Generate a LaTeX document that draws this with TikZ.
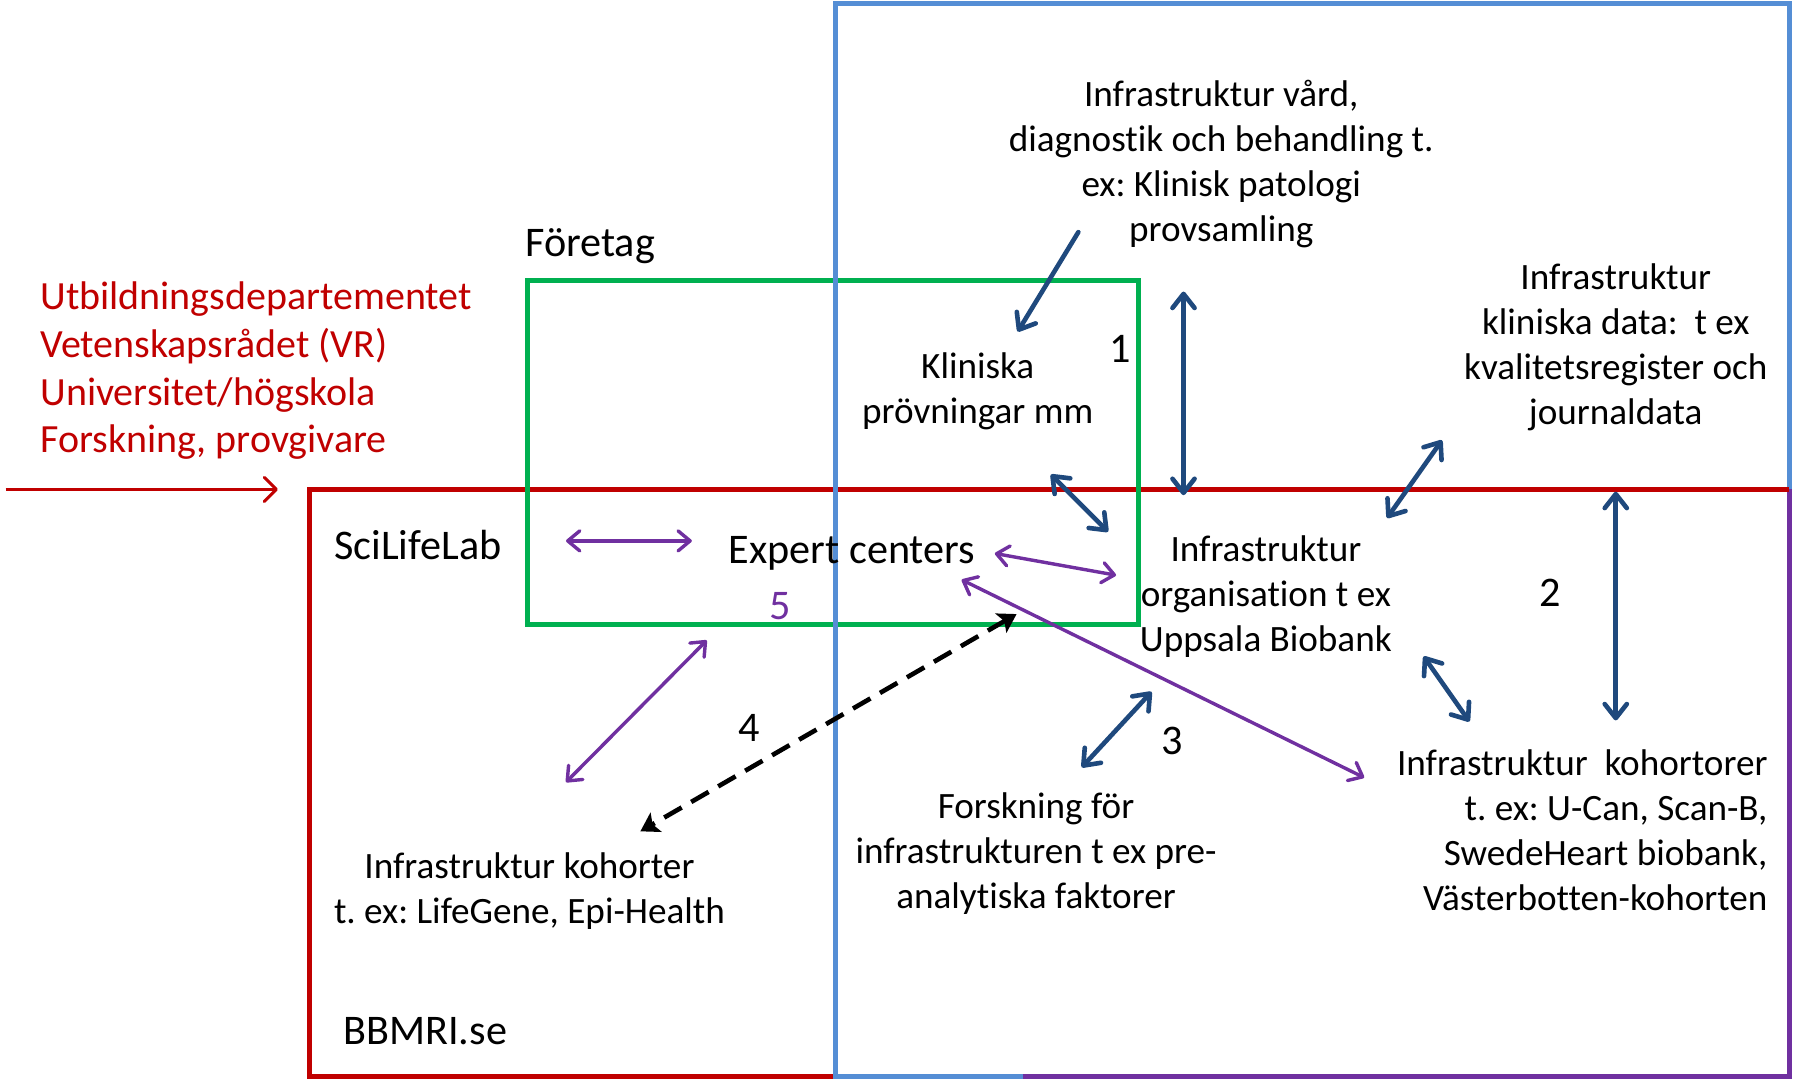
\documentclass[tikz,border=0pt]{standalone}
\usepackage{fontspec}
\setmainfont{Carlito}[Ligatures=NoCommon]
\usetikzlibrary{arrows.meta}
\definecolor{frameblue}{HTML}{558ED5}
\definecolor{darkred}{HTML}{C00000}
\definecolor{grn}{HTML}{00B050}
\definecolor{purp}{HTML}{7030A0}
\definecolor{navy}{HTML}{1F497D}
\frenchspacing
\begin{document}
\begin{tikzpicture}[x=0.02cm,y=-0.02cm,
  txt/.style={font=\fontsize{18.5}{22.4}\selectfont, inner sep=0pt, align=center, yshift=-1.3pt},
  big/.style={font=\fontsize{21}{25}\selectfont, inner sep=0pt, yshift=-1.3pt},
  frame/.style={line width=2.5pt, line join=miter},
  barb/.tip={Straight Barb[round,length=7pt,width=11pt]},
  pbarb/.tip={Straight Barb[round,length=6pt,width=10pt]},
  navyarrow/.style={navy, line width=2.3pt, line cap=round, {barb}-{barb}},
  navysingle/.style={navy, line width=2.3pt, line cap=round, -{barb}},
  purparrow/.style={purp, line width=1.7pt, line cap=round, {pbarb}-{pbarb}},
  dasharrow/.style={black, line width=2.3pt, dash pattern=on 10pt off 5.5pt, {Stealth[length=9pt,width=11pt,inset=2pt]}-{Stealth[length=9pt,width=11pt,inset=2pt]}},
  redarrow/.style={darkred, line width=1.5pt, -{Straight Barb[round,length=6pt,width=12pt]}}
]
\useasboundingbox (0,0) rectangle (1568,944);

% frames
\draw[darkred, frame] (271,428) rectangle (1564.5,941);
\draw[grn, frame] (461,245) rectangle (996,546);
\draw[frameblue, frame] (731,3) rectangle (1564.5,941);
\draw[purp, frame] (895,941) -- (1564.5,941) -- (1564.5,428);
\draw[darkred, frame] (1400,428) -- (1564.5,428);

% texts
\node[txt, anchor=west, align=left, text=darkred, font=\fontsize{19.9}{23.8}\selectfont] (redtxt) at (35,322)
  {Utbildningsdepartementet\\Vetenskapsrådet (VR)\\Universitet/högskola\\Forskning, provgivare};
\node[big, anchor=west] (foretag) at (459,213) {Företag};
\node[big, anchor=west] (scilife) at (292,474) {SciLifeLab};
\node[big, anchor=west] (bbmri) at (300,899) {BBMRI.se};
\node[big] (expert) at (745,482) {Expert centers};
\node[big, text=purp] (five) at (682,528) {5};
\node[txt] (klin) at (855,340) {Kliniska\\prövningar mm};
\node[big] (one) at (980,303) {1};
\node[txt] (vard) at (1068,141) {Infrastruktur vård,\\diagnostik och behandling t.\\ex: Klinisk patologi\\provsamling};
\node[txt] (kldata) at (1413,301) {Infrastruktur\\kliniska data:\ \ t ex\\kvalitetsregister och\\journaldata};
\node[txt] (org) at (1107,519) {Infrastruktur\\organisation t ex\\Uppsala Biobank};
\node[big] (two) at (1356,516) {2};
\node[txt, anchor=east, align=right] (kohortorer) at (1546,724) {Infrastruktur\ \ kohortorer\\t. ex: U-Can, Scan-B,\\SwedeHeart biobank,\\Västerbotten-kohorten};
\node[big] (three) at (1025,646) {3};
\node[txt] (forsk) at (906,744) {Forskning för\\infrastrukturen t ex pre-\\analytiska faktorer};
\node[big] (four) at (655,634) {4};
\node[txt] (kohorter) at (463,777) {Infrastruktur kohorter\\t. ex: LifeGene, Epi-Health};

% connector end points
\coordinate (r1) at (5,428);   \coordinate (r2) at (243,428);
\coordinate (p1a) at (495,473); \coordinate (p1b) at (605,473);
\coordinate (p2a) at (618,560); \coordinate (p2b) at (495,684);
\coordinate (p3a) at (870,484); \coordinate (p3b) at (976,503);
\coordinate (p4a) at (841,507); \coordinate (p4b) at (1193,680);
\coordinate (n1a) at (943,203); \coordinate (n1b) at (890,290);
\coordinate (n2a) at (1035,255); \coordinate (n2b) at (1035,433);
\coordinate (n3a) at (919,415); \coordinate (n3b) at (969,465);
\coordinate (n4a) at (1261,385); \coordinate (n4b) at (1213,453);
\coordinate (n5a) at (1413,430); \coordinate (n5b) at (1413,630);
\coordinate (n6a) at (1245,574); \coordinate (n6b) at (1285,631);
\coordinate (n7a) at (1007,605); \coordinate (n7b) at (946,671);
\coordinate (d1) at (889,537); \coordinate (d2) at (560,727);

% connectors
\draw[redarrow] (r1) -- (r2);
\draw[purparrow] (p1a) -- (p1b);
\draw[purparrow] (p2a) -- (p2b);
\draw[purparrow] (p3a) -- (p3b);
\draw[purparrow] (p4a) -- (p4b);
\draw[navysingle] (n1a) -- (n1b);
\draw[navyarrow] (n2a) -- (n2b);
\draw[navyarrow] (n3a) -- (n3b);
\draw[navyarrow] (n4a) -- (n4b);
\draw[navyarrow] (n5a) -- (n5b);
\draw[navyarrow] (n6a) -- (n6b);
\draw[navyarrow] (n7a) -- (n7b);
\draw[dasharrow] (d1) -- (d2);
\end{tikzpicture}
\end{document}
